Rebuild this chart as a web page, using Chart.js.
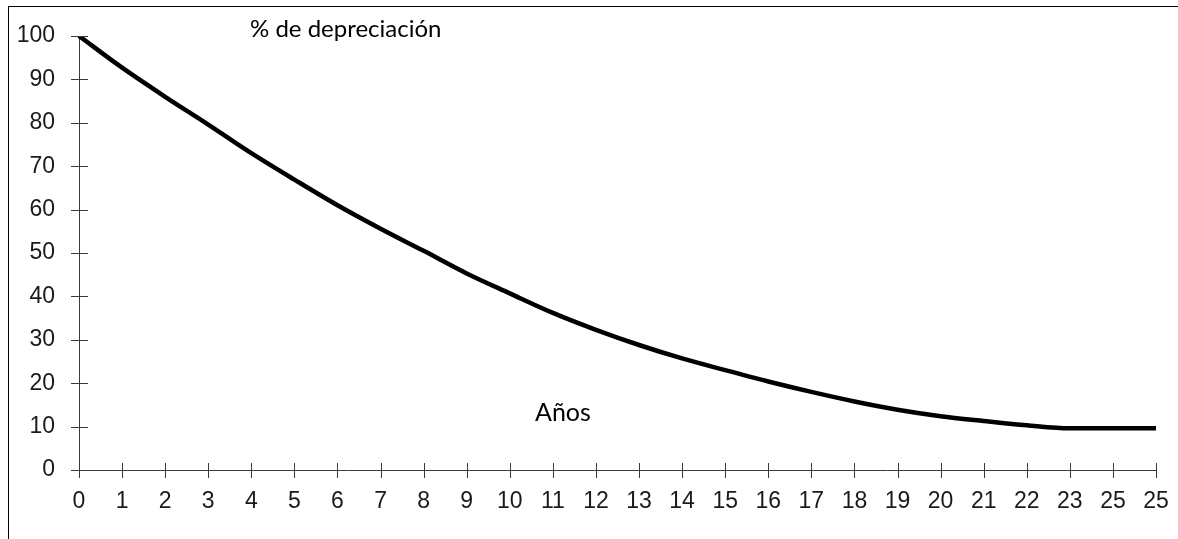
<!DOCTYPE html>
<html>
<head>
<meta charset="utf-8">
<script src="https://cdn.jsdelivr.net/npm/chart.js@4/dist/chart.umd.min.js"></script>
<style>
  html, body { margin: 0; padding: 0; background: #fff; }
  #wrap { position: relative; width: 1178px; height: 539px; overflow: hidden; }
  #frame { position: absolute; left: 8px; top: 6px; width: 1300px; height: 700px;
           border-left: 1px solid #000; border-top: 1.5px solid #000; box-sizing: border-box; }
  canvas { position: absolute; left: 0; top: 0; }
</style>
</head>
<body>
<div id="wrap">
  <div id="frame"></div>
  <canvas id="c" width="1178" height="539"></canvas>
</div>
<script>
const years = ['0','1','2','3','4','5','6','7','8','9','10','11','12','13','14','15','16','17','18','19','20','21','22','23','25','25'];
const depreciation = [100, 92.7, 86, 79.6, 73, 66.9, 61, 55.6, 50.5, 45.3, 40.7, 36.2, 32.3, 28.8, 25.7, 23, 20.4, 18, 15.8, 13.9, 12.4, 11.3, 10.3, 9.6, 9.6, 9.6];
const yTicks = [0, 10, 20, 30, 40, 50, 60, 70, 80, 90, 100];
const titleText = '% de depreciación';
const xTitleText = 'Años';

const axisColor = '#3a3a3a';

const crossTicks = {
  id: 'crossTicks',
  afterDraw(chart) {
    const ctx = chart.ctx;
    const xs = chart.scales.x, ys = chart.scales.y;
    const x0 = xs.getPixelForValue(0);
    const y0 = ys.getPixelForValue(0);
    ctx.save();
    ctx.strokeStyle = axisColor;
    ctx.lineWidth = 1;
    ctx.beginPath();
    yTicks.forEach(v => {
      const py = Math.round(ys.getPixelForValue(v)) + 0.5;
      ctx.moveTo(x0 - 8, py); ctx.lineTo(x0 + 9, py);
    });
    years.forEach((_, i) => {
      const px = Math.round(xs.getPixelForValue(i)) + 0.5;
      ctx.moveTo(px, y0 - 7); ctx.lineTo(px, y0 + 8);
    });
    ctx.stroke();
    ctx.fillStyle = '#000';
    ctx.textBaseline = 'alphabetic';
    ctx.textAlign = 'left';
    ctx.font = '24px Lato, "Open Sans", sans-serif';
    ctx.fillText(titleText, 250, 37);
    ctx.font = '25px Lato, "Open Sans", sans-serif';
    ctx.fillText(xTitleText, 535, 421);
    ctx.restore();
  }
};

new Chart(document.getElementById('c'), {
  type: 'line',
  data: {
    labels: years,
    datasets: [{
      data: depreciation,
      borderColor: '#000',
      borderWidth: 4.5,
      pointRadius: 0,
      tension: 0.4,
      cubicInterpolationMode: 'monotone',
      fill: false
    }]
  },
  options: {
    responsive: false,
    animation: false,
    layout: { padding: { left: 0, right: 22, top: 36, bottom: 0 } },
    plugins: { legend: { display: false }, tooltip: { enabled: false } },
    scales: {
      x: {
        type: 'category',
        offset: false,
        grid: { display: false, drawTicks: false },
        border: { display: true, color: axisColor, width: 1 },
        ticks: {
          autoSkip: false, maxRotation: 0, padding: 18,
          color: '#1a1a1a',
          font: { family: '"Liberation Sans", Arial, sans-serif', size: 23 }
        },
        afterFit(scale) { scale.height = 69; scale.paddingLeft = 0; scale.paddingRight = 0; }
      },
      y: {
        min: 0, max: 100,
        grid: { display: false, drawTicks: false },
        border: { display: true, color: axisColor, width: 1 },
        ticks: {
          stepSize: 10, padding: 24,
          color: '#1a1a1a',
          font: { family: '"Liberation Sans", Arial, sans-serif', size: 23 }
        },
        afterFit(scale) { scale.width = 79; scale.paddingTop = 0; scale.paddingBottom = 0; }
      }
    }
  },
  plugins: [crossTicks]
});
</script>
</body>
</html>
